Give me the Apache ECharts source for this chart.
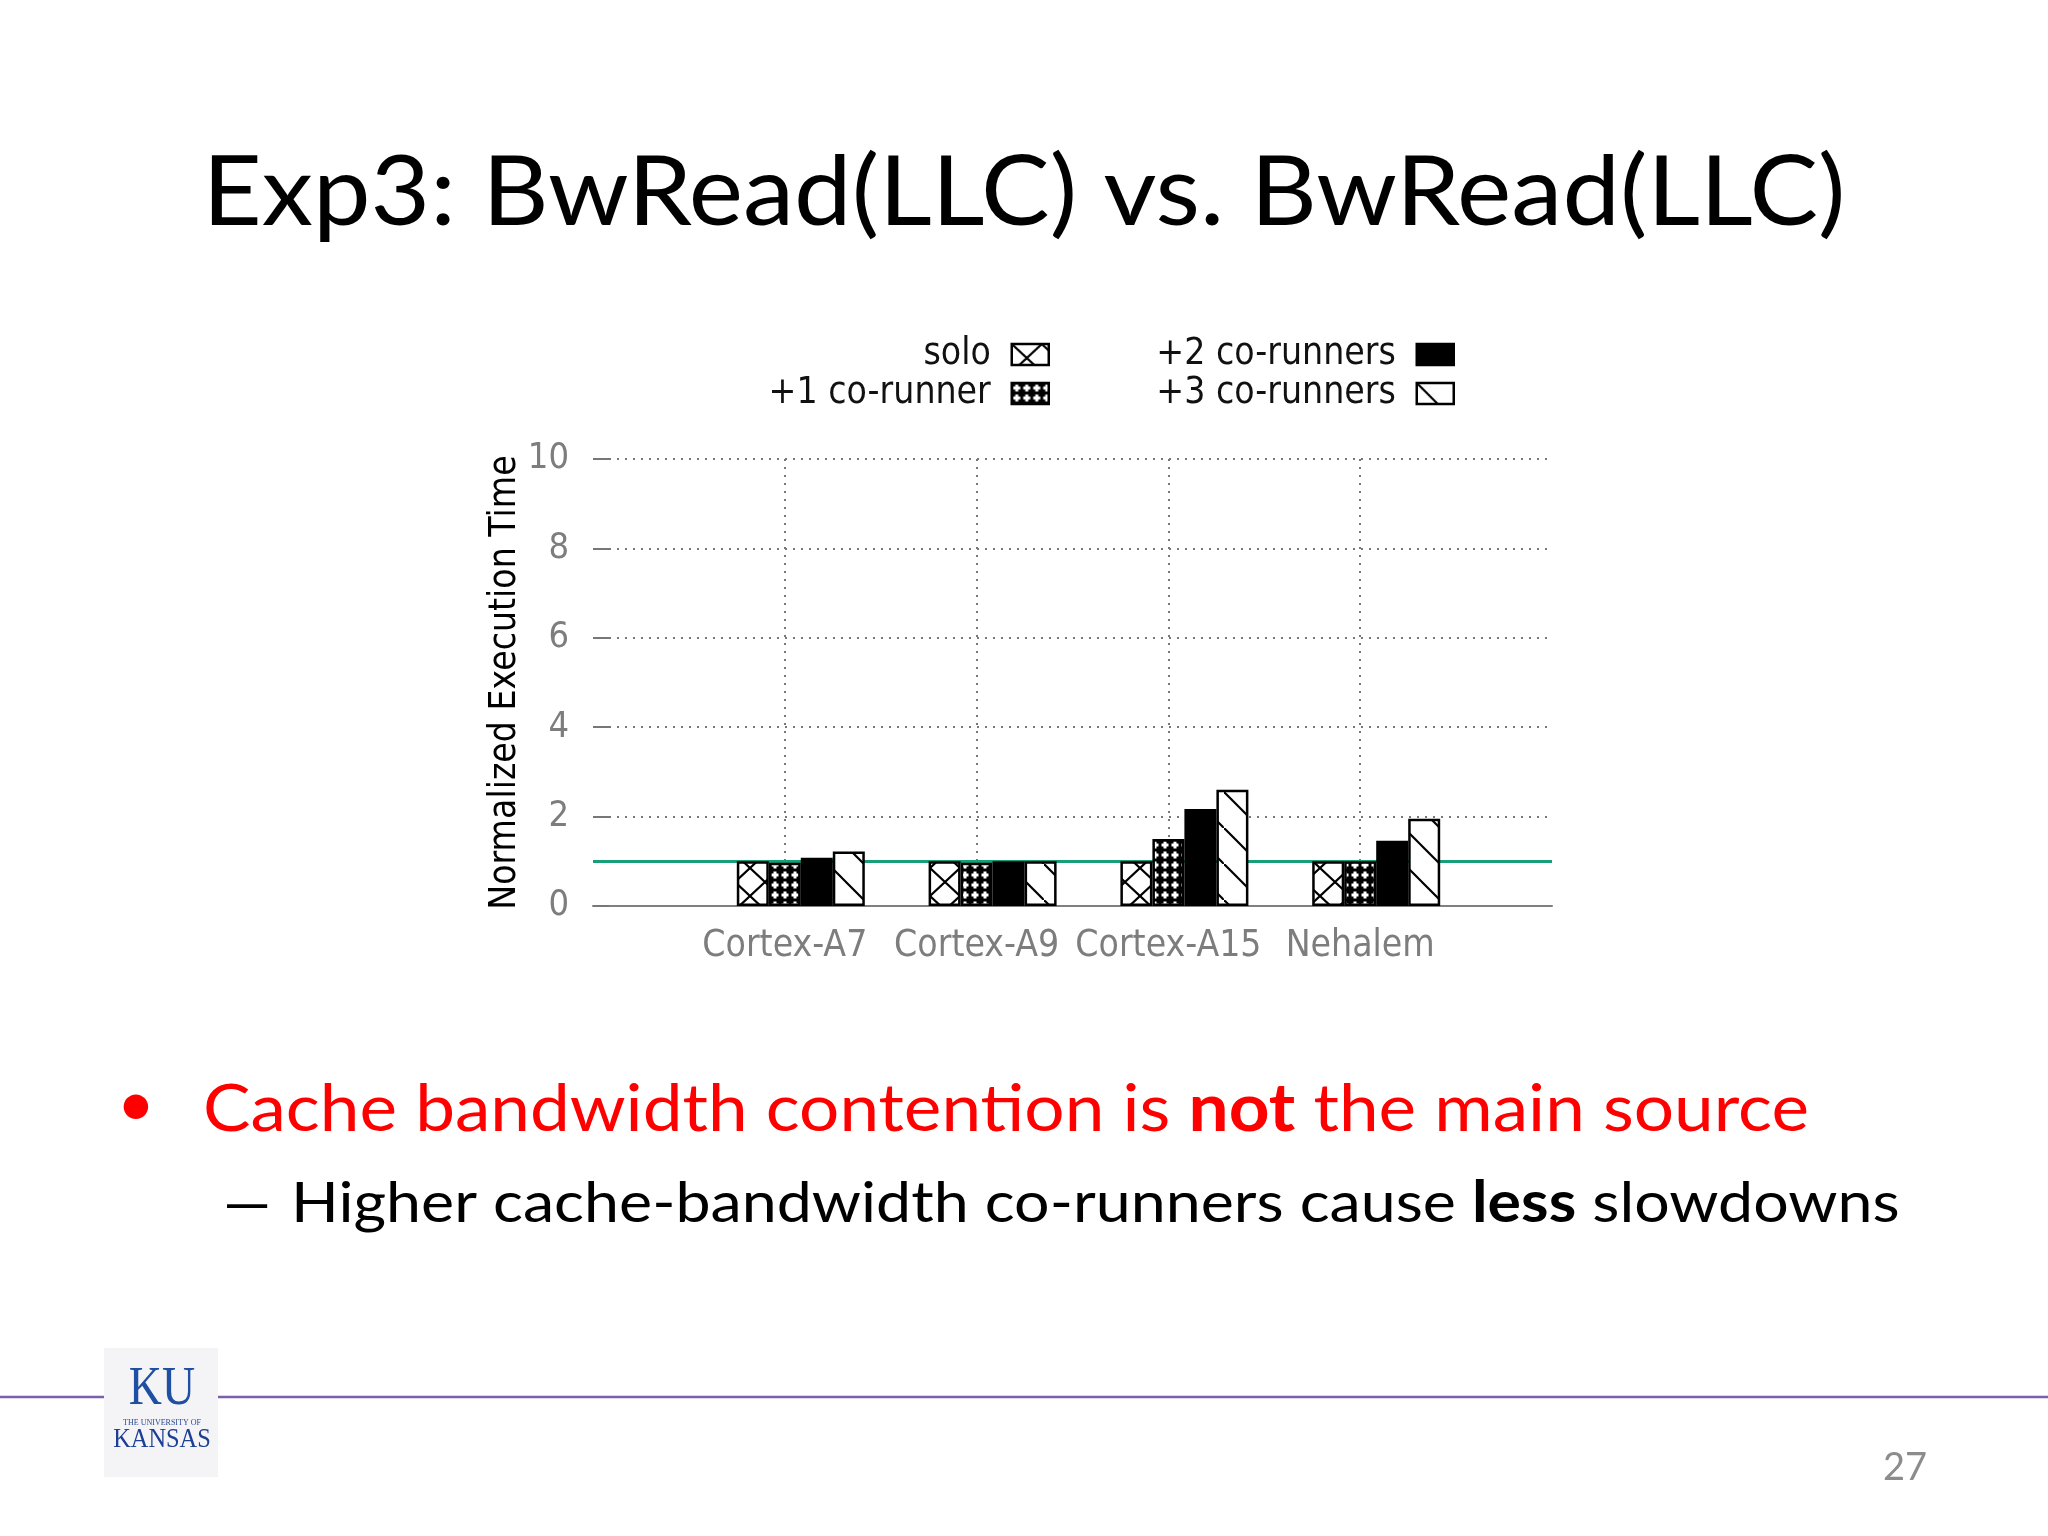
<!DOCTYPE html>
<html>
<head>
<meta charset="utf-8">
<script src="https://cdn.jsdelivr.net/npm/echarts@6/dist/echarts.min.js"></script>
<style>
html,body{margin:0;padding:0;background:#ffffff;}
#chart{width:2048px;height:1536px;}
</style>
</head>
<body>
<div id="chart"></div>
<script>
// ---- data ----
const categories = ['', 'Cortex-A7', 'Cortex-A9', 'Cortex-A15', 'Nehalem', ''];
const seriesNames = ['solo', '+1 co-runner', '+2 co-runners', '+3 co-runners'];
const solo        = [null, 1.00, 1.00, 1.00, 1.00, null];
const coRunner1   = [null, 0.97, 0.97, 1.50, 1.00, null];
const coRunners2  = [null, 1.08, 1.00, 2.17, 1.46, null];
const coRunners3  = [null, 1.22, 1.00, 2.60, 1.95, null];
const baselineValue = 1;
const yMin = 0, yMax = 10, yStep = 2;

const titleText = 'Exp3: BwRead(LLC) vs. BwRead(LLC)';
const yAxisName = 'Normalized Execution Time';
const pageNumber = '27';

// ---- patterns ----
function makeCanvas(w, h, draw) {
  const c = document.createElement('canvas');
  c.width = w; c.height = h;
  draw(c.getContext('2d'), w, h);
  return c;
}
const patSolo = makeCanvas(30, 28, (g, w, h) => {
  g.fillStyle = '#fff'; g.fillRect(0, 0, w, h);
  g.strokeStyle = '#000'; g.lineWidth = 2.2;
  g.beginPath();
  g.moveTo(-w, -h); g.lineTo(2 * w, 2 * h);
  g.moveTo(2 * w, -h); g.lineTo(-w, 2 * h);
  g.stroke();
});
const patOne = makeCanvas(10, 10, (g, w, h) => {
  g.fillStyle = '#000'; g.fillRect(0, 0, w, h);
  g.fillStyle = '#fff';
  g.fillRect(3.5, 1.5, 3, 7);
  g.fillRect(1.5, 3.5, 7, 3);
});
const patThree = makeCanvas(36, 36, (g, w, h) => {
  g.fillStyle = '#fff'; g.fillRect(0, 0, w, h);
  g.strokeStyle = '#000'; g.lineWidth = 2.2;
  g.beginPath();
  g.moveTo(-w, -h); g.lineTo(2 * w, 2 * h);
  g.stroke();
});
const fills = [
  { image: patSolo, repeat: 'repeat' },
  { image: patOne, repeat: 'repeat' },
  '#000000',
  { image: patThree, repeat: 'repeat' }
];
const values = [solo, coRunner1, coRunners2, coRunners3];

const chartFont = "'DejaVu Sans Condensed', 'DejaVu Sans', sans-serif";
const slideFont = "Lato, 'Open Sans', sans-serif";

const chart = echarts.init(document.getElementById('chart'), null, { renderer: 'canvas' });

const series = [{
  name: 'gap',
  type: 'bar',
  data: categories.map(() => null),
  barWidth: 32,
  barGap: '0%',
  silent: true
}];
seriesNames.forEach((n, i) => {
  const s = {
    name: n,
    type: 'bar',
    data: values[i],
    barWidth: 32,
    barGap: '0%',
    z: 3,
    itemStyle: { color: fills[i], borderColor: '#000', borderWidth: 2.5 }
  };
  if (i === 0) {
    s.markLine = {
      silent: true,
      symbol: 'none',
      z: 1,
      label: { show: false },
      lineStyle: { color: '#17a078', width: 3, type: 'solid' },
      data: [{ yAxis: baselineValue }],
      animation: false
    };
  }
  series.push(s);
});

const legendCommon = {
  orient: 'vertical',
  align: 'right',
  icon: 'rect',
  padding: 0,
  itemWidth: 37,
  itemHeight: 21,
  itemGap: 2,
  selectedMode: false,
  itemStyle: { borderColor: '#000', borderWidth: 2.5 },
  textStyle: { fontFamily: chartFont, fontSize: 37, color: '#111', padding: [0, 16, 0, 0] }
};

const option = {
  animation: false,
  backgroundColor: '#ffffff',
  grid: { left: 593, right: 2048 - 1552, top: 459, bottom: 1536 - 906, containLabel: false },
  legend: [
    Object.assign({}, legendCommon, { data: [seriesNames[0], seriesNames[1]], right: 2048 - 1050, top: 336 }),
    Object.assign({}, legendCommon, { data: [seriesNames[2], seriesNames[3]], right: 2048 - 1455, top: 336 })
  ],
  xAxis: {
    type: 'category',
    data: categories,
    boundaryGap: false,
    axisLine: { lineStyle: { color: '#808080', width: 2 } },
    axisTick: { show: false },
    axisLabel: { color: '#7d7d7d', fontFamily: chartFont, fontSize: 37, margin: 22, interval: 0 },
    splitLine: {
      show: true,
      interval: (i, v) => v !== '',
      lineStyle: { color: '#777', type: [2, 6], width: 2 }
    }
  },
  yAxis: {
    type: 'value',
    min: yMin, max: yMax, interval: yStep,
    axisLine: { show: false },
    axisTick: { show: true, inside: true, length: 16, lineStyle: { color: '#777', width: 2 } },
    axisLabel: { color: '#7d7d7d', fontFamily: chartFont, fontSize: 36, margin: 24 },
    splitLine: { show: true, lineStyle: { color: '#777', type: [2, 6], width: 2 } },
    name: yAxisName,
    nameLocation: 'middle',
    nameGap: 63,
    nameTextStyle: { fontFamily: chartFont, fontSize: 37, color: '#000' }
  },
  series: series,
  graphic: [
    { type: 'text', x: 1024, y: 194, z: 10, scaleX: 1.07,
      style: { text: titleText, font: '96px ' + slideFont, fill: '#000', align: 'center', verticalAlign: 'middle' } },
    { type: 'text', x: 136, y: 1105, z: 10,
      style: { text: '•', font: '66px ' + slideFont, fill: '#ff0000', align: 'center', verticalAlign: 'middle' } },
    { type: 'text', x: 203, y: 1110, z: 10, scaleX: 1.077,
      style: {
        text: '{r|Cache bandwidth contention is }{b|not}{r| the main source}',
        align: 'left', verticalAlign: 'middle',
        rich: {
          r: { font: '66px ' + slideFont, fill: '#ff0000' },
          b: { font: 'bold 66px ' + slideFont, fill: '#ff0000' }
        }
      } },
    { type: 'text', x: 218, y: 1205, z: 10, scaleX: 1.76,
      style: { text: '–', font: '57px ' + slideFont, fill: '#000', align: 'left', verticalAlign: 'middle' } },
    { type: 'text', x: 291, y: 1204, z: 10, scaleX: 1.10,
      style: {
        text: '{n|Higher cache-bandwidth co-runners cause }{b|less}{n| slowdowns}',
        align: 'left', verticalAlign: 'middle',
        rich: {
          n: { font: '57px ' + slideFont, fill: '#000' },
          b: { font: 'bold 57px ' + slideFont, fill: '#000' }
        }
      } },
    { type: 'line', z: 5, shape: { x1: 0, y1: 1397, x2: 2048, y2: 1397 },
      style: { stroke: '#7c5fab', lineWidth: 2.5 } },
    { type: 'rect', z: 6, shape: { x: 104, y: 1348, width: 114, height: 129 },
      style: { fill: '#f4f3f6' } },
    { type: 'text', x: 162, y: 1390, z: 7, scaleX: 0.85,
      style: { text: 'KU', font: '54px "Liberation Serif", serif', fill: '#1f4fa3', align: 'center', verticalAlign: 'middle' } },
    { type: 'text', x: 162, y: 1423, z: 7,
      style: { text: 'THE UNIVERSITY OF', font: '8px "Liberation Serif", serif', fill: '#2a4a95', align: 'center', verticalAlign: 'middle' } },
    { type: 'text', x: 162, y: 1440, z: 7, scaleX: 0.87,
      style: { text: 'KANSAS', font: '28px "Liberation Serif", serif', fill: '#1c3f94', align: 'center', verticalAlign: 'middle' } },
    { type: 'text', x: 1905, y: 1468, z: 10,
      style: { text: pageNumber, font: '38px ' + slideFont, fill: '#8c8c8c', align: 'center', verticalAlign: 'middle' } }
  ]
};
chart.setOption(option);
</script>
</body>
</html>
